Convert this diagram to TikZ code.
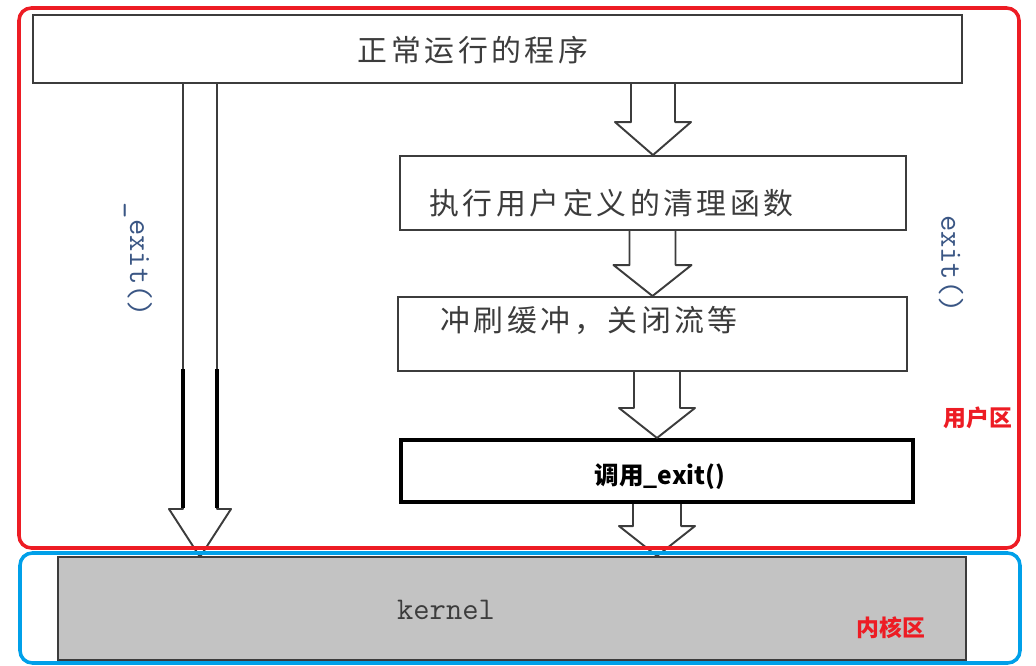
\documentclass[tikz,border=0pt]{standalone}
\usepackage{fontspec}
\usepackage{tikz}
\usetikzlibrary{positioning,calc,fit}
\newfontfamily\cjk{Noto Sans CJK SC}
\newfontfamily\cjkwide[LetterSpace=12]{Noto Sans CJK SC}
\definecolor{userred}{HTML}{ED1C24}
\definecolor{kernblue}{HTML}{00A0E9}
\definecolor{kerngrey}{HTML}{C3C3C3}
\definecolor{inkgrey}{HTML}{3C3C3C}
\definecolor{codeblue}{HTML}{3A5684}
\tikzset{
  stage/.style={draw=inkgrey,line width=1.1pt,inner sep=0pt},
  stagetxt/.style={font=\cjkwide\fontsize{17pt}{20pt}\selectfont,text=inkgrey,inner sep=0pt},
  callbox/.style={draw=black,line width=2.3pt,inner sep=0pt,font=\cjk\bfseries\fontsize{14pt}{17pt}\selectfont},
  kernbox/.style={draw=inkgrey,line width=1.1pt,fill=kerngrey,inner sep=0pt},
  codetxt/.style={font=\ttfamily\fontsize{18pt}{21pt}\selectfont,text=codeblue,inner sep=0pt},
  zonetxt/.style={font=\cjk\bfseries\fontsize{13pt}{16pt}\selectfont,text=userred,inner sep=0pt},
  zone/.style={rounded corners=7pt,line width=2pt,inner sep=0pt},
  blk/.style={draw=inkgrey,line width=1.1pt,line join=round},
  inkbar/.style={draw=black,line width=2.2pt},
}
% hollow block arrow: from, tip, half shaft, half head, head length
\newcommand{\blockarrow}[5]{%
  \draw[blk] ($(#1)+(-#3,0)$) -- ($(#2)+(-#3,-#5)$) -- ($(#2)+(-#4,-#5)$) -- (#2)
    -- ($(#2)+(#4,-#5)$) -- ($(#2)+(#3,-#5)$) -- ($(#1)+(#3,0)$);}

\begin{document}
\begin{tikzpicture}[x=0.02cm,y=-0.02cm]
  \useasboundingbox (0,0) rectangle (1036,666);
  % boxes
  \node[stage,fit={(33,15) (962,83)}] (topbox) {};
  \node[stagetxt] (toptxt) at (473,50) {正常运行的程序};
  \node[stage,fit={(400,156) (906,230)}] (cleanbox) {};
  \node[stagetxt,anchor=west] (cleantxt) at (429,203) {执行用户定义的清理函数};
  \node[stage,fit={(398,297) (907,371)}] (flushbox) {};
  \node[stagetxt,anchor=west] (flushtxt) at (440,320) {冲刷缓冲，关闭流等};
  \node[callbox,fit={(401,440) (913,502)}] (callexit) {};
  \node[font=\cjk\bfseries\fontsize{14pt}{17pt}\selectfont,inner sep=0pt] (callexittxt) at (660,477) {调用\_exit()};
  \node[kernbox,fit={(58,557) (966,660)}] (kernel) {};
  \node[codetxt,text=inkgrey] (kerneltxt) at (446,610) {kernel};

  % arrows
  \coordinate (ltip) at (200,557);
  \path (ltip |- topbox.south) coordinate (ltop);
  \blockarrow{ltop}{ltip}{17}{31}{48}
  \draw[inkbar] ($(ltip)+(-17,-49)$) -- ($(ltip)+(-17,-188)$);
  \draw[inkbar] ($(ltip)+(17,-49)$) -- ($(ltip)+(17,-188)$);
  \path (topbox.south -| cleanbox.north) coordinate (a1top);
  \blockarrow{a1top}{cleanbox.north}{22}{38}{33}
  \path (cleanbox.south -| flushbox.north) coordinate (a2top);
  \blockarrow{a2top}{flushbox.north}{23}{39}{31}
  \path (flushbox.south -| callexit.north) coordinate (a3top);
  \blockarrow{a3top}{callexit.north}{23}{38}{30}
  \path (callexit.south |- kernel.north) coordinate (a4tip);
  \blockarrow{callexit.south}{a4tip}{24}{38}{30}

  % labels
  \node[codetxt,rotate=-90] (quickexit) at (138,260) {\_exit()};
  \node[codetxt,rotate=-90] (normexit) at (951,264) {exit()};
  \node[zonetxt] (userlbl) at (978,418) {用户区};
  \node[zonetxt] (kernlbl) at (891,628) {内核区};

  % zones
  \node[zone,draw=userred,fit={(19,8) (1019,548)}] (userzone) {};
  \node[zone,draw=kernblue,fit={(20,553) (1020,663)}] (kernzone) {};
\end{tikzpicture}
\end{document}
